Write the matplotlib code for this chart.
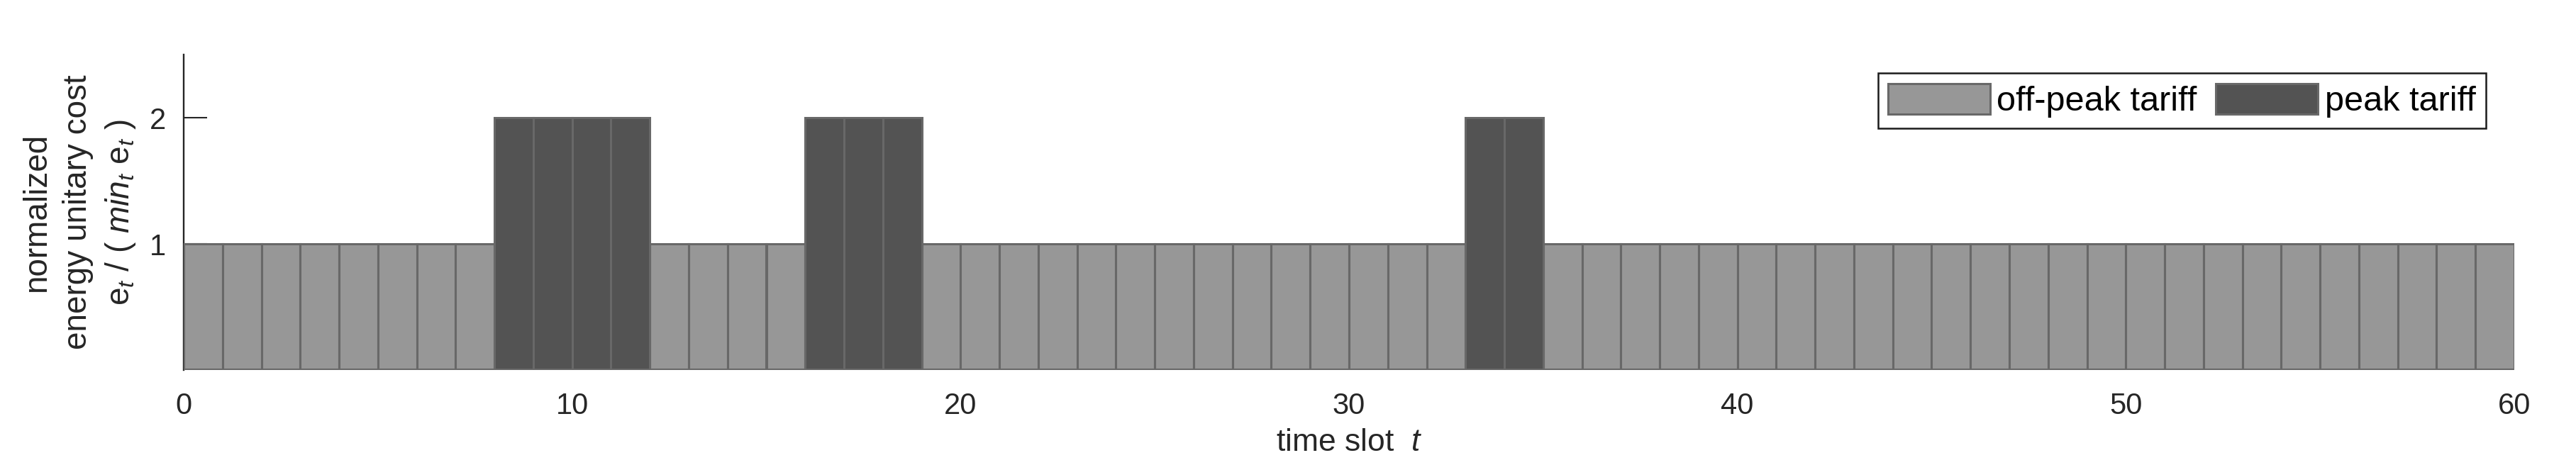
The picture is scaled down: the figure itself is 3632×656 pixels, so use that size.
import numpy as np
import matplotlib
matplotlib.use("Agg")
import matplotlib.pyplot as plt

plt.rcParams['font.family'] = ['Liberation Sans', 'DejaVu Sans']
plt.rcParams['mathtext.fontset'] = 'custom'
plt.rcParams['mathtext.rm'] = 'Liberation Sans'
plt.rcParams['mathtext.it'] = 'Liberation Sans:italic'

# ---- data ----
slots = list(range(60))
cost = [1, 1, 1, 1, 1, 1, 1, 1, 2, 2,
        2, 2, 1, 1, 1, 1, 2, 2, 2, 1,
        1, 1, 1, 1, 1, 1, 1, 1, 1, 1,
        1, 1, 1, 2, 2, 1, 1, 1, 1, 1,
        1, 1, 1, 1, 1, 1, 1, 1, 1, 1,
        1, 1, 1, 1, 1, 1, 1, 1, 1, 1]
tariff_labels = ['off-peak tariff', 'peak tariff']
xticks = [0, 10, 20, 30, 40, 50, 60]
yticks = [1, 2]

off_color = '#979797'
peak_color = '#535353'
edge_color = '#686868'
axis_color = '#262626'

fig = plt.figure(figsize=(36.32, 6.56), dpi=100)
ax = fig.add_axes([259/3632, 1 - 522/656, (3545-259)/3632, (522-77)/656])

cost_arr = np.array(cost)
slots_arr = np.array(slots)
off = cost_arr == 1
peak = cost_arr == 2
ax.bar(slots_arr[off], cost_arr[off], width=1.0, align='edge', color=off_color,
       edgecolor=edge_color, linewidth=2.2, label=tariff_labels[0], zorder=3)
ax.bar(slots_arr[peak], cost_arr[peak], width=1.0, align='edge', color=peak_color,
       edgecolor=edge_color, linewidth=2.2, label=tariff_labels[1], zorder=3)
# thicker base line as in the reference
ax.axhline(0, color=edge_color, linewidth=3.0, zorder=4)

ax.set_xlim(0, 60)
ax.set_ylim(0, 2.5)
ax.set_xticks(xticks)
ax.set_yticks(yticks)
ax.tick_params(axis='both', direction='in', width=1.5, color=axis_color,
               labelsize=30, labelcolor=axis_color)
ax.tick_params(axis='y', length=24, pad=18)
ax.tick_params(axis='x', length=0, pad=22)

for s in ['top', 'right', 'bottom']:
    ax.spines[s].set_visible(False)
ax.spines['left'].set_color(axis_color)
ax.spines['left'].set_linewidth(1.7)

ax.set_xlabel('time slot  $t$', fontsize=32, color=axis_color, labelpad=8)
ax.set_ylabel('normalized\nenergy unitary cost\ne$_t$ / ( $min_t$ e$_t$ )',
              fontsize=33, color=axis_color, labelpad=12, linespacing=1.4)

leg = ax.legend(loc='upper right', bbox_to_anchor=((3505-259)/3286, (522-103)/445),
                borderaxespad=0, ncol=2, fontsize=35, frameon=True, fancybox=False,
                framealpha=1, edgecolor='#1a1a1a', handlelength=2.95, handleheight=1.0,
                handletextpad=0.2, columnspacing=0.55, borderpad=0.3)
leg.get_frame().set_linewidth(1.8)
for t in leg.get_texts():
    t.set_color('black')

fig.savefig('out.png', dpi=100, facecolor='white')
